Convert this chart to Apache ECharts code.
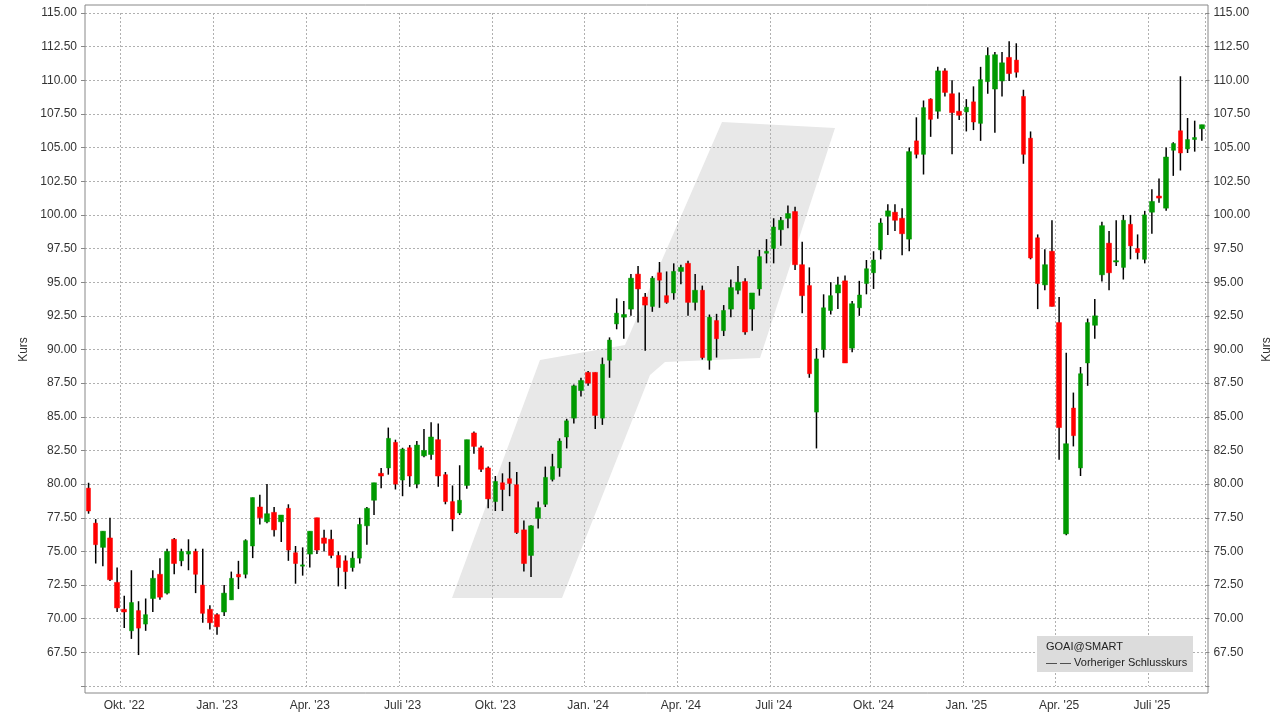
<!DOCTYPE html>
<html><head><meta charset="utf-8">
<script src="https://cdn.jsdelivr.net/npm/echarts@6/dist/echarts.min.js"></script>
<style>html,body{margin:0;padding:0;background:#fff}#c{width:1281px;height:720px}</style>
</head><body><div id="c"></div>
<script>
const startDate = '2022-08-29';
const opens = [79.7,77.1,75.3,76.0,72.7,70.7,69.1,70.6,69.6,71.5,73.3,71.9,75.9,74.3,74.8,75.0,72.5,70.7,70.3,70.5,71.4,73.3,73.3,75.4,78.3,77.2,77.9,77.2,78.2,74.9,73.9,74.8,77.5,76.0,75.9,74.7,74.3,73.8,74.5,76.9,78.8,80.8,81.2,83.1,80.3,82.7,80.0,82.1,82.2,83.3,80.7,78.7,77.85,79.9,83.8,82.7,81.2,78.7,80.1,80.4,79.95,76.6,74.7,77.45,78.5,80.35,81.2,83.5,84.9,86.95,88.3,88.3,84.9,89.2,91.9,92.4,93.0,95.6,93.9,93.2,95.7,94.0,94.2,95.8,96.4,93.5,94.4,89.2,92.15,91.4,93.0,94.4,95.05,93.0,94.5,97.15,97.5,98.9,99.75,100.25,96.3,94.75,85.35,90.0,92.9,94.2,95.1,90.1,93.1,94.9,95.7,97.4,99.9,100.2,99.75,98.2,105.5,104.5,108.6,107.7,110.7,109.0,107.7,107.65,108.4,106.8,109.9,109.35,109.95,111.7,111.5,108.8,105.7,98.3,94.8,97.3,92.0,76.3,85.65,81.2,89.0,91.8,95.55,97.9,96.5,96.1,99.3,97.5,96.7,100.2,101.4,100.5,104.8,106.25,104.9,105.6,106.4];
const closes = [78.0,75.5,76.5,72.9,70.8,70.5,71.2,69.3,70.3,73.0,71.6,75.0,74.1,75.0,75.0,73.3,70.4,69.7,69.4,71.9,73.0,73.1,75.8,79.0,77.5,77.8,76.6,77.7,75.1,74.1,74.0,76.5,75.1,75.6,74.7,73.8,73.5,74.5,77.0,78.2,80.1,80.6,83.4,80.0,82.6,80.6,82.9,82.5,83.5,80.6,78.7,77.4,78.8,83.3,82.8,81.1,78.9,80.2,79.6,80.05,76.4,74.1,76.9,78.25,80.5,81.3,83.2,84.7,87.3,87.7,87.5,85.1,88.9,90.7,92.7,92.6,95.3,94.5,93.3,95.3,95.15,93.5,95.8,96.1,93.5,94.4,89.4,92.4,90.8,92.9,94.6,95.0,91.3,94.2,96.9,97.3,99.1,99.6,100.1,96.3,94.0,88.2,89.3,93.1,94.0,94.8,89.0,93.4,94.05,96.0,96.65,99.4,100.3,99.6,98.6,104.7,104.5,107.97,107.1,110.7,109.1,107.6,107.4,108.0,106.9,110.05,111.85,111.9,111.3,110.5,110.6,104.5,96.8,94.9,96.3,93.2,84.2,83.0,83.6,88.2,92.0,92.5,99.2,95.7,96.6,99.6,97.7,97.2,100.0,101.0,101.25,104.3,105.3,104.6,105.6,105.75,106.7];
const lows = [77.8,74.1,73.9,72.8,70.5,69.3,68.5,67.3,69.1,70.5,71.4,71.8,73.3,73.9,73.6,71.9,69.7,69.2,68.8,70.2,71.4,72.2,73.0,74.5,77.0,77.1,76.1,75.7,74.3,72.6,73.2,73.8,74.8,75.0,74.5,72.4,72.2,73.5,74.1,75.5,77.7,79.7,80.7,79.6,79.1,79.8,79.7,82.0,81.8,79.8,78.5,76.5,77.7,79.65,82.25,80.9,78.2,78.0,78.0,79.1,76.3,73.5,73.1,76.7,78.3,80.2,80.55,82.65,84.5,86.5,87.3,84.1,84.4,87.9,91.5,90.8,92.5,92.0,89.9,92.8,93.1,93.4,93.7,94.85,92.5,92.9,89.25,88.5,89.4,91.0,92.4,94.1,91.1,91.4,94.0,96.4,96.4,97.7,99.0,95.9,92.7,87.9,82.65,89.4,92.6,93.0,89.0,89.8,92.5,94.1,94.5,96.7,98.5,98.8,97.0,97.3,104.2,103.0,105.8,107.15,108.8,104.5,107.05,106.2,106.3,105.5,109.0,106.1,108.8,109.95,110.2,103.8,96.7,93.0,94.4,93.2,81.8,76.2,82.8,80.6,87.3,90.8,95.05,94.4,96.2,95.2,96.7,96.7,96.4,98.6,100.9,100.3,102.9,103.3,104.6,104.7,105.5];
const highs = [80.1,77.4,76.5,77.5,73.8,71.7,73.6,71.3,71.5,73.6,74.5,75.2,76.0,75.2,75.9,75.2,75.2,71.0,70.4,72.5,73.5,74.3,75.9,79.0,79.2,80.0,78.3,77.7,78.5,75.4,75.3,76.5,77.5,76.6,76.6,75.0,74.7,75.0,77.5,78.3,80.1,81.2,84.2,83.3,82.7,82.9,83.2,84.1,84.6,84.5,80.9,79.9,81.4,83.3,83.9,82.85,81.3,80.6,80.8,81.65,80.9,77.3,76.95,78.7,81.3,82.25,83.4,84.85,87.4,87.9,88.4,88.3,89.4,90.9,93.8,93.6,95.6,96.2,94.2,95.45,96.5,95.8,96.4,96.3,96.6,95.6,94.75,92.6,92.65,93.3,95.2,96.2,95.3,94.2,97.4,98.2,99.75,99.85,100.7,100.6,98.0,96.1,90.1,94.1,95.0,95.4,95.5,93.6,95.1,96.65,97.3,99.75,100.8,100.8,100.5,105.0,107.25,108.5,108.66,111.0,110.9,110.0,109.1,108.6,109.55,111.0,112.45,112.1,112.1,112.9,112.75,109.3,106.2,98.55,97.45,99.6,93.9,89.75,86.8,88.7,92.3,93.75,99.5,98.8,99.6,100.0,100.0,98.55,100.3,101.9,102.7,105.0,105.4,110.3,107.2,107.0,106.7];

const dates = [];
const d0 = new Date(startDate + 'T00:00:00Z');
for (let i = 0; i < opens.length; i++) {
  const d = new Date(d0.getTime() + i * 7 * 86400000);
  dates.push(d.toISOString().slice(0, 10));
}
const monthNames = {1:'Jan.',4:'Apr.',7:'Juli',10:'Okt.'};
function isQuarterStart(idx) {
  const d = new Date(dates[idx] + 'T00:00:00Z');
  const m = d.getUTCMonth() + 1;
  return !!monthNames[m] && d.getUTCDate() <= 7;
}
function labelFor(val) {
  const d = new Date(val + 'T00:00:00Z');
  const m = d.getUTCMonth() + 1;
  return monthNames[m] + " '" + String(d.getUTCFullYear()).slice(2);
}
const bodies = opens.map((o, i) => [o, closes[i], Math.min(o, closes[i]), Math.max(o, closes[i])]);
const wicks = lows.map((l, i) => [i, l, highs[i]]);

const chart = echarts.init(document.getElementById('c'));
const font = 'Liberation Sans, Arial, sans-serif';
const yAxisBase = {
  type: 'value', min: 65, max: 115, interval: 2.5,
  name: 'Kurs', nameLocation: 'middle', nameRotate: 90,
  nameTextStyle: {color: '#333', fontFamily: font, fontSize: 12},
  axisLine: {show: false}, axisTick: {show: true, length: 4, lineStyle: {color: '#888'}},
  axisLabel: {color: '#333', fontFamily: font, fontSize: 12, margin: 8,
    formatter: v => v === 65 ? '' : v.toFixed(2)},
  splitLine: {show: true, lineStyle: {color: '#b0b0b0', type: [2, 2]}}
};
chart.setOption({
  animation: false,
  backgroundColor: '#fff',
  grid: {left: 85, right: 73, top: 13, bottom: 34},
  xAxis: {
    type: 'category', data: dates, boundaryGap: true,
    axisLine: {show: false},
    axisTick: {show: false},
    axisLabel: {interval: (i) => isQuarterStart(i), formatter: labelFor, color: '#333', fontFamily: font, fontSize: 12, margin: 14},
    splitLine: {show: true, interval: (i) => isQuarterStart(i), lineStyle: {color: '#b0b0b0', type: [2, 2]}}
  },
  yAxis: [
    Object.assign({}, yAxisBase, {position: 'left', nameGap: 52}),
    Object.assign({}, yAxisBase, {position: 'right', nameGap: 52, splitLine: {show: false}})
  ],
  graphic: [
    {type: 'polygon', z: -10, shape: {points: [[452,598],[562,598],[650,375],[665,362],[760,358],[835,128],[722,122],[625,345],[540,360]]}, style: {fill: '#e8e8e8'}, silent: true},
    {type: 'rect', z: 100, shape: {x: 85, y: 5, width: 1123, height: 688}, style: {fill: 'none', stroke: '#888', lineWidth: 1}},
    {type: 'rect', z: 101, shape: {x: 1037, y: 636, width: 156, height: 36}, style: {fill: '#dcdcdc'}},
    {type: 'text', z: 102, x: 1046, y: 641, style: {text: 'GOAI@SMART', fill: '#222', font: '11px ' + font}},
    {type: 'text', z: 102, x: 1046, y: 657, style: {text: '— — Vorheriger Schlusskurs', fill: '#222', font: '11px ' + font}}
  ],
  series: [
    {
      type: 'custom', z: 2, data: wicks,
      renderItem: (params, api) => {
        const x = api.coord([api.value(0), api.value(1)])[0];
        const y1 = api.coord([api.value(0), api.value(1)])[1];
        const y2 = api.coord([api.value(0), api.value(2)])[1];
        return {type: 'line', shape: {x1: x, y1: y1, x2: x, y2: y2}, style: {stroke: '#000', lineWidth: 1.5}};
      }
    },
    {
      type: 'candlestick', z: 3, data: bodies, barWidth: 5,
      itemStyle: {color: '#009900', color0: '#ff0000', borderColor: '#009900', borderColor0: '#ff0000', borderWidth: 0.5}
    }
  ]
});
</script></body></html>
